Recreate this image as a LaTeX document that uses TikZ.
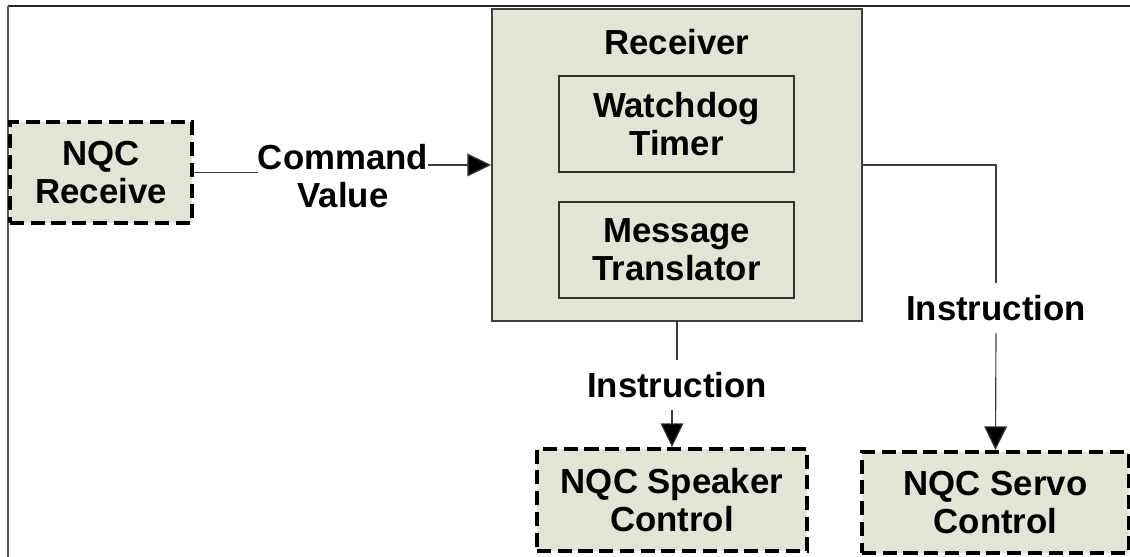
\documentclass[tikz,border=0pt]{standalone}
\usepackage{fontspec}
\setmainfont{Liberation Sans}
\usetikzlibrary{arrows.meta}
\definecolor{boxfill}{RGB}{226,228,214}
\definecolor{linegray}{RGB}{60,60,60}
\tikzset{
  lbl/.style={font=\bfseries\fontsize{19.8}{21.5}\selectfont, align=center, inner sep=2pt},
  dbox/.style={lbl, draw=black, fill=boxfill, line width=2.2pt, dash pattern=on 8pt off 3.8pt, inner sep=0pt},
  rbox/.style={lbl, draw=black!75, fill=boxfill, line width=1pt, inner sep=0pt},
  ibox/.style={lbl, draw=black!80, line width=0.7pt, inner sep=0pt},
  conn/.style={draw=linegray, line width=0.65pt},
  arr/.style={conn, -{Triangle[length=13.5pt,width=13pt,fill=black]}},
}
\begin{document}
\begin{tikzpicture}[x=0.02cm,y=-0.02cm]
\useasboundingbox (0,0) rectangle (1130,557);
% frame lines
\draw[black!85, line width=1pt] (8,6) -- (1130,6);
\draw[black!65, line width=1.4pt] (8,6) -- (8,557);
% receiver
\node[rbox, minimum width=370*0.02cm, minimum height=312*0.02cm] (rcv) at (677,165) {};
\node[lbl] (rcvt) at (677,42) {Receiver};
\node[ibox, minimum width=235*0.02cm, minimum height=96*0.02cm] (wdt) at (676.5,124) {Watchdog\\Timer};
\node[ibox, minimum width=235*0.02cm, minimum height=96*0.02cm] (mtr) at (676.5,250) {Message\\Translator};
% external boxes
\node[dbox, minimum width=182*0.02cm, minimum height=101*0.02cm] (nqcr) at (101,172.5) {NQC\\Receive};
\node[dbox, minimum width=270*0.02cm, minimum height=102*0.02cm] (spk) at (672,500) {NQC Speaker\\Control};
\node[dbox, minimum width=267*0.02cm, minimum height=101*0.02cm] (srv) at (995.5,502.5) {NQC Servo\\Control};
% labels
\node[lbl, inner sep=0pt] (cmd) at (343,176) {Command\\Value};
\node[lbl, inner sep=7pt] (ins1) at (677,385) {Instruction};
\node[lbl, inner sep=7pt] (ins2) at (996,308) {Instruction};
% connectors
\draw[conn] (nqcr.east) -- (nqcr.east -| cmd.west);
\draw[arr] (cmd.east |- rcv.west) -- (rcv.west);
\draw[conn] (rcv.south) -- (rcv.south |- ins1.north);
\draw[arr] (ins1.south -| spk.north) -- (spk.north);
\draw[conn] (rcv.east) -| (ins2.north);
\draw[arr] (ins2.south) -- (srv.north);
\end{tikzpicture}
\end{document}
